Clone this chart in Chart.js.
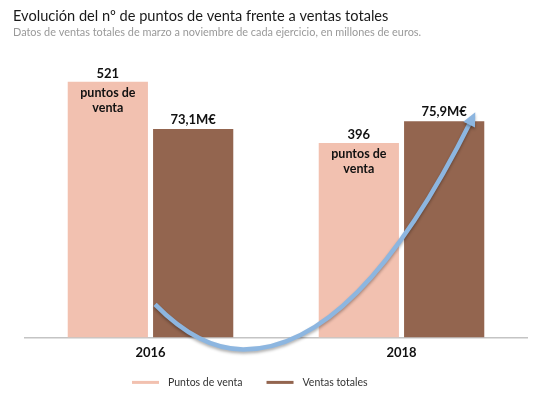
<!DOCTYPE html>
<html>
<head>
<meta charset="utf-8">
<script src="https://cdn.jsdelivr.net/npm/chart.js@4/dist/chart.umd.min.js"></script>
<style>
  html, body { margin: 0; padding: 0; background: #fff; }
  #wrap { width: 548px; height: 396px; }
</style>
</head>
<body>
<div id="wrap"><canvas id="chart"></canvas></div>
<script>
// Data
const years = ['2016', '2018'];
const puntosVenta = [521, 396];
const ventasTotales = [73.1, 75.9];
const puntosText = ['puntos de', 'venta'];
const seriesNames = ['Puntos de venta', 'Ventas totales'];
const seriesColors = ['#F2C1B0', '#93654F'];

const FONT = 'Lato, "Open Sans", sans-serif';

// Value labels above / inside the bars
const labelPlugin = {
  id: 'barLabels',
  afterDatasetsDraw(chart) {
    const ctx = chart.ctx;
    ctx.save();
    ctx.fillStyle = '#111';
    ctx.textAlign = 'center';
    ctx.textBaseline = 'middle';
    chart.getDatasetMeta(0).data.forEach((bar, i) => {
      ctx.font = 'bold 13px ' + FONT;
      ctx.fillText(String(puntosVenta[i]), bar.x, bar.y - 8);
      ctx.font = 'bold 12.5px ' + FONT;
      puntosText.forEach((t, j) => ctx.fillText(t, bar.x, bar.y + 11 + j * 15));
    });
    chart.getDatasetMeta(1).data.forEach((bar, i) => {
      ctx.font = 'bold 13px ' + FONT;
      ctx.fillText(ventasTotales[i].toFixed(1).replace('.', ',') + 'M€', bar.x, bar.y - 9);
    });
    ctx.restore();
  }
};

// Curved blue arrow, placed from the ventas bars
const arrowPlugin = {
  id: 'arrow',
  afterDatasetsDraw(chart) {
    const bars = chart.getDatasetMeta(1).data;
    const b0 = bars[0], b1 = bars[1];
    const base = b0.base;
    const sx = b0.x - b0.width / 2 + 2, sy = base - 33;
    const hx = b0.x + b0.width / 2 + 10, hy = base + 12;
    const ex = b1.x + b1.width / 2 - 9, ey = b1.y - 9;
    const cx = (hx + ex) / 2, cy = hy;
    let dx = ex - cx, dy = ey - cy;
    const len = Math.hypot(dx, dy);
    dx /= len; dy /= len;
    // stop the line a little before the tip so the head covers the end
    const t = 1 - 9 / (2 * len);
    const qx = hx + t * (cx - hx), qy = hy + t * (cy - hy);
    const mx = (1 - t) * (1 - t) * hx + 2 * t * (1 - t) * cx + t * t * ex;
    const my = (1 - t) * (1 - t) * hy + 2 * t * (1 - t) * cy + t * t * ey;

    const ctx = chart.ctx;
    ctx.save();
    ctx.shadowColor = 'rgba(0,0,0,0.3)';
    ctx.shadowBlur = 3;
    ctx.shadowOffsetY = 2;
    ctx.strokeStyle = '#8DB6E0';
    ctx.fillStyle = '#8DB6E0';
    ctx.lineWidth = 4.5;
    ctx.lineCap = 'butt';
    ctx.beginPath();
    ctx.moveTo(sx, sy);
    ctx.quadraticCurveTo((sx + hx) / 2, hy, hx, hy);
    ctx.quadraticCurveTo(qx, qy, mx, my);
    ctx.stroke();

    const L = 14, W = 6.5;
    ctx.beginPath();
    ctx.moveTo(ex, ey);
    ctx.lineTo(ex - dx * L - dy * W, ey - dy * L + dx * W);
    ctx.lineTo(ex - dx * L + dy * W, ey - dy * L - dx * W);
    ctx.closePath();
    ctx.fill();
    ctx.restore();
  }
};

// Legend drawn by hand so it sits where the reference has it
const legendPlugin = {
  id: 'customLegend',
  afterDraw(chart) {
    const ctx = chart.ctx;
    const area = chart.chartArea;
    ctx.save();
    ctx.font = '10.5px ' + FONT;
    ctx.textBaseline = 'middle';
    let x = area.left + 107;
    const y = area.bottom + 45;
    seriesNames.forEach((name, i) => {
      ctx.fillStyle = seriesColors[i];
      ctx.fillRect(x, y - 1.5, 27, 3);
      x += 27 + 9;
      ctx.fillStyle = '#333';
      ctx.fillText(name, x, y);
      x += ctx.measureText(name).width + 24;
    });
    ctx.restore();
  }
};

new Chart(document.getElementById('chart'), {
  type: 'bar',
  data: {
    labels: years,
    datasets: [
      {
        label: seriesNames[0],
        data: puntosVenta,
        backgroundColor: seriesColors[0],
        yAxisID: 'y',
        categoryPercentage: 0.68,
        barPercentage: 0.94
      },
      {
        label: seriesNames[1],
        data: ventasTotales,
        backgroundColor: seriesColors[1],
        yAxisID: 'y1',
        categoryPercentage: 0.68,
        barPercentage: 0.94
      }
    ]
  },
  options: {
    responsive: true,
    maintainAspectRatio: false,
    animation: false,
    layout: { padding: { left: 13, right: 21, top: 0, bottom: 35 } },
    plugins: {
      legend: { display: false },
      tooltip: { enabled: false },
      title: {
        display: true,
        text: 'Evolución del nº de puntos de venta frente a ventas totales',
        align: 'start',
        color: '#1a1a1a',
        font: { family: FONT, size: 14.6, weight: 'normal' },
        padding: { top: 8, bottom: 0 }
      },
      subtitle: {
        display: true,
        text: 'Datos de ventas totales de marzo a noviembre de cada ejercicio, en millones de euros.',
        align: 'start',
        color: '#999',
        font: { family: FONT, size: 10.9 },
        padding: { top: 0, bottom: 21 }
      }
    },
    scales: {
      x: {
        grid: { display: false },
        border: { color: '#c4c4c4', width: 1.5 },
        ticks: { color: '#111', padding: 0, font: { family: FONT, size: 13, weight: 'bold' } }
      },
      y: {
        position: 'left',
        min: 0,
        max: 566,
        ticks: { display: false },
        grid: { display: false },
        border: { display: false },
        afterFit(scale) { scale.width = 12; }
      },
      y1: {
        position: 'right',
        display: false,
        min: 0,
        max: 97.5
      }
    }
  },
  plugins: [arrowPlugin, labelPlugin, legendPlugin]
});
</script>
</body>
</html>
